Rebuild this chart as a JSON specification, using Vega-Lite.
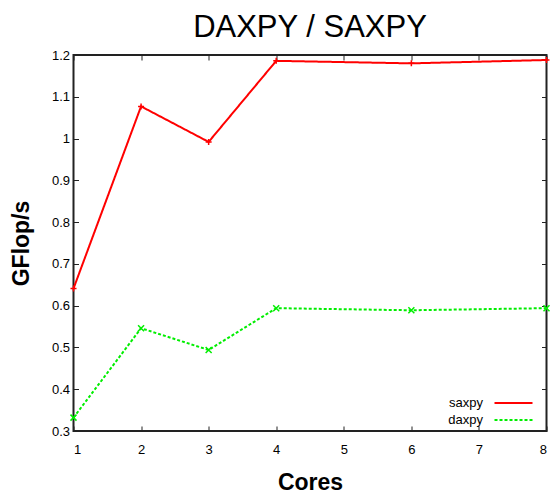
{
  "$schema": "https://vega.github.io/schema/vega-lite/v6.json",
  "width": 473,
  "height": 376,
  "autosize": {"type": "none"},
  "padding": {"left": 73.5, "top": 55, "right": 6.5, "bottom": 64},
  "background": "white",
  "title": {
    "text": "DAXPY / SAXPY",
    "font": "Liberation Sans",
    "fontSize": 31,
    "fontWeight": "normal",
    "color": "#000",
    "anchor": "middle",
    "frame": "group",
    "baseline": "alphabetic",
    "offset": -19
  },
  "config": {
    "view": {"stroke": "#222", "strokeWidth": 2},
    "axis": {
      "labelFont": "Liberation Sans",
      "labelFontSize": 13,
      "labelColor": "#000",
      "titleFont": "Liberation Sans",
      "titleFontWeight": "bold",
      "titleFontSize": 23,
      "titleColor": "#000",
      "domain": false,
      "grid": false,
      "tickColor": "#222",
      "tickWidth": 1,
      "tickSize": -5
    }
  },
  "data": {
    "values": [
      {"cores": 1, "series": "saxpy", "gflops": 0.641},
      {"cores": 2, "series": "saxpy", "gflops": 1.077},
      {"cores": 3, "series": "saxpy", "gflops": 0.992},
      {"cores": 4, "series": "saxpy", "gflops": 1.186},
      {"cores": 6, "series": "saxpy", "gflops": 1.180},
      {"cores": 8, "series": "saxpy", "gflops": 1.188},
      {"cores": 1, "series": "daxpy", "gflops": 0.332},
      {"cores": 2, "series": "daxpy", "gflops": 0.546},
      {"cores": 3, "series": "daxpy", "gflops": 0.494},
      {"cores": 4, "series": "daxpy", "gflops": 0.594},
      {"cores": 6, "series": "daxpy", "gflops": 0.589},
      {"cores": 8, "series": "daxpy", "gflops": 0.594}
    ]
  },
  "layer": [
    {
      "mark": {"type": "line", "strokeWidth": 2, "clip": true},
      "encoding": {
        "x": {
          "field": "cores", "type": "quantitative",
          "scale": {"domain": [1, 8], "nice": false, "zero": false},
          "axis": {"title": "Cores", "values": [1, 2, 3, 4, 5, 6, 7, 8], "labelPadding": 17, "titlePadding": 15}
        },
        "y": {
          "field": "gflops", "type": "quantitative",
          "scale": {"domain": [0.3, 1.2], "nice": false, "zero": false},
          "axis": {"title": "GFlop/s", "values": [0.3, 0.4, 0.5, 0.6, 0.7, 0.8, 0.9, 1.0, 1.1, 1.2], "format": ".1~f", "labelPadding": 9, "titlePadding": 18}
        },
        "color": {
          "field": "series", "type": "nominal",
          "scale": {"domain": ["saxpy", "daxpy"], "range": ["#ff0000", "#00ee00"]},
          "legend": {
            "title": null,
            "orient": "none",
            "legendX": 433.5,
            "legendY": 341.5,
            "padding": 0,
            "symbolType": "M-4.75,0L4.75,0",
            "symbolSize": 64,
            "symbolStrokeWidth": 2,
            "labelFont": "Liberation Sans",
            "labelFontSize": 13,
            "labelColor": "#000",
            "rowPadding": 3,
            "encode": {
              "labels": {"update": {"x": {"value": -24}, "align": {"value": "right"}}}
            }
          }
        },
        "strokeDash": {
          "field": "series", "type": "nominal",
          "scale": {"domain": ["saxpy", "daxpy"], "range": [[1, 0], [3, 2]]},
          "legend": {"title": null}
        }
      }
    },
    {
      "transform": [{"filter": "datum.series === 'saxpy'"}],
      "mark": {"type": "point", "filled": false, "shape": "M-1,0L1,0M0,-1L0,1", "color": "#ff0000", "strokeWidth": 1.5, "size": 36, "opacity": 1},
      "encoding": {
        "x": {"field": "cores", "type": "quantitative", "axis": null},
        "y": {"field": "gflops", "type": "quantitative", "axis": null}
      }
    },
    {
      "transform": [{"filter": "datum.series === 'daxpy'"}],
      "mark": {"type": "point", "filled": false, "shape": "M-1,-1L1,1M1,-1L-1,1", "color": "#00ee00", "strokeWidth": 1.5, "size": 36, "opacity": 1},
      "encoding": {
        "x": {"field": "cores", "type": "quantitative", "axis": null},
        "y": {"field": "gflops", "type": "quantitative", "axis": null}
      }
    },
    {
      "mark": {"type": "rule", "opacity": 0},
      "encoding": {
        "x": {
          "field": "cores", "type": "quantitative",
          "axis": {"orient": "top", "title": null, "labels": false, "values": [1, 2, 3, 4, 5, 6, 7, 8]}
        },
        "y": {
          "field": "gflops", "type": "quantitative",
          "axis": {"orient": "right", "title": null, "labels": false, "values": [0.3, 0.4, 0.5, 0.6, 0.7, 0.8, 0.9, 1.0, 1.1, 1.2]}
        }
      }
    }
  ],
  "resolve": {"axis": {"x": "independent", "y": "independent"}}
}
